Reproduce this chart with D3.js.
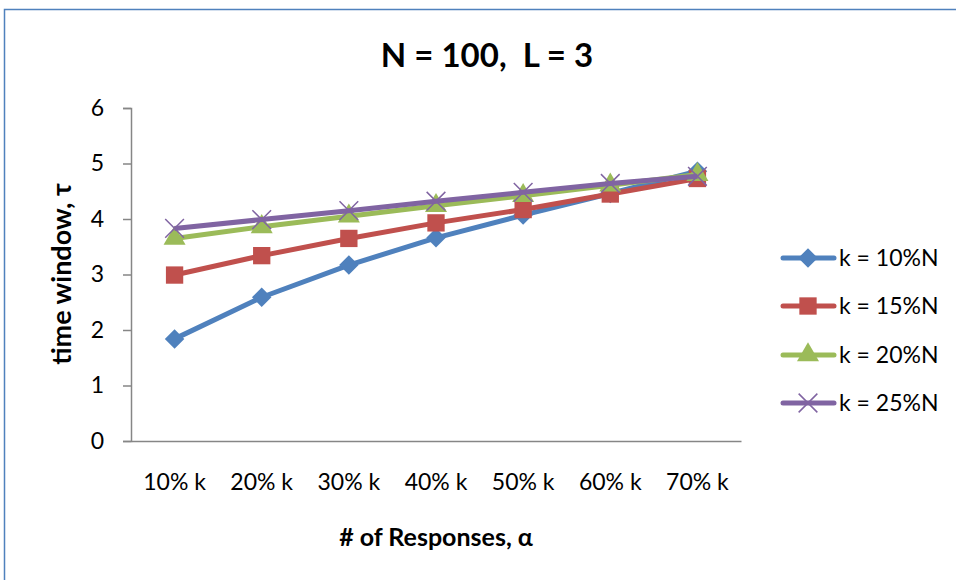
<!DOCTYPE html>
<html>
<head>
<meta charset="utf-8">
<script src="https://cdn.jsdelivr.net/npm/d3@7"></script>
<style>
  body { margin: 0; background: #fff; }
  text { font-family: Lato, "Open Sans", sans-serif; fill: #000; }
</style>
</head>
<body>
<div id="svg-container"></div>
<script>
// chart data
const categories = ["10% k", "20% k", "30% k", "40% k", "50% k", "60% k", "70% k"];
const seriesNames = ["k = 10%N", "k = 15%N", "k = 20%N", "k = 25%N"];
const k10 = [1.84, 2.59, 3.17, 3.66, 4.07, 4.46, 4.86];
const k15 = [2.99, 3.34, 3.65, 3.93, 4.17, 4.45, 4.73];
const k20 = [3.65, 3.86, 4.05, 4.24, 4.42, 4.61, 4.80];
const k25 = [3.83, 3.99, 4.15, 4.32, 4.48, 4.64, 4.77];
const yTicks = [0, 1, 2, 3, 4, 5, 6];

const colors = ['#4F81BD', '#C0504D', '#9BBB59', '#8064A2'];
const symbols = [d3.symbolSquare, d3.symbolSquare, d3.symbolTriangle, d3.symbolX];
const symbolSizes = [190, 300, 210, 230];
const symbolRotate = [45, 0, 0, 0];

const width = 956, height = 580;

const svg = d3.select('#svg-container')
  .append('svg')
  .attr('width', width)
  .attr('height', height);

// outer chart border
svg.append('rect')
  .attr('x', 4.5).attr('y', 9.5)
  .attr('width', 960).attr('height', 600)
  .attr('fill', 'none')
  .attr('stroke', '#4F81BD')
  .attr('stroke-width', 1.5);

const x = d3.scaleBand().domain(categories).range([131, 741]);
const y = d3.scaleLinear().domain([0, 6]).range([441, 108]);

// y axis
const yAxis = svg.append('g')
  .attr('transform', 'translate(131,0)')
  .call(d3.axisLeft(y).tickValues(yTicks).tickFormat(d3.format('d')).tickSize(8).tickPadding(19));
yAxis.select('.domain').attr('stroke', '#868686').attr('stroke-width', 1.5);
yAxis.selectAll('.tick line').attr('stroke', '#868686').attr('stroke-width', 1.5);
yAxis.selectAll('.tick text').attr('font-size', 23).attr('font-family', 'Lato, sans-serif').attr('fill', '#000');

// x axis
const xAxis = svg.append('g')
  .attr('transform', 'translate(0,441)')
  .call(d3.axisBottom(x).tickSize(0).tickSizeOuter(0));
xAxis.select('.domain').attr('stroke', '#868686').attr('stroke-width', 1.5);
xAxis.selectAll('.tick text')
  .attr('y', 49).attr('dy', 0)
  .attr('font-size', 23).attr('font-family', 'Lato, sans-serif').attr('fill', '#000');

// titles
svg.append('text')
  .attr('x', 487).attr('y', 67)
  .attr('text-anchor', 'middle')
  .attr('font-size', 33).attr('font-weight', 'bold')
  .text('N = 100,\u00a0 L = 3');

svg.append('text')
  .attr('x', 436).attr('y', 546)
  .attr('text-anchor', 'middle')
  .attr('font-size', 25).attr('font-weight', 'bold')
  .text('# of Responses, α');

svg.append('text')
  .attr('transform', 'translate(71,274) rotate(-90)')
  .attr('text-anchor', 'middle')
  .attr('font-size', 27).attr('font-weight', 'bold')
  .text('time window, τ');

// series
const allSeries = [k10, k15, k20, k25];
const line = d3.line()
  .x((d, i) => x(categories[i]) + x.bandwidth() / 2)
  .y(d => y(d));

allSeries.forEach((vals, si) => {
  svg.append('path')
    .datum(vals)
    .attr('d', line)
    .attr('fill', 'none')
    .attr('stroke', colors[si])
    .attr('stroke-width', 5)
    .attr('stroke-linejoin', 'round');

  svg.selectAll('.m' + si)
    .data(vals)
    .join('path')
    .attr('class', 'm' + si)
    .attr('transform', (d, i) => `translate(${x(categories[i]) + x.bandwidth() / 2},${y(d)}) rotate(${symbolRotate[si]})`)
    .attr('d', d3.symbol().type(symbols[si]).size(symbolSizes[si]))
    .attr('fill', si === 3 ? 'none' : colors[si])
    .attr('stroke', colors[si])
    .attr('stroke-width', si === 3 ? 1.5 : 0);
});

// legend
const legendY = [258, 306, 355, 403];
seriesNames.forEach((name, si) => {
  const g = svg.append('g').attr('transform', `translate(0,${legendY[si]})`);
  g.append('line')
    .attr('x1', 783).attr('x2', 834)
    .attr('stroke', colors[si])
    .attr('stroke-width', 5)
    .attr('stroke-linecap', 'round');
  g.append('path')
    .attr('transform', `translate(808,0) rotate(${symbolRotate[si]})`)
    .attr('d', d3.symbol().type(symbols[si]).size(symbolSizes[si]))
    .attr('fill', si === 3 ? 'none' : colors[si])
    .attr('stroke', colors[si])
    .attr('stroke-width', si === 3 ? 1.5 : 0);
  g.append('text')
    .attr('x', 839).attr('y', 8)
    .attr('font-size', 23)
    .text(name);
});
</script>
</body>
</html>
